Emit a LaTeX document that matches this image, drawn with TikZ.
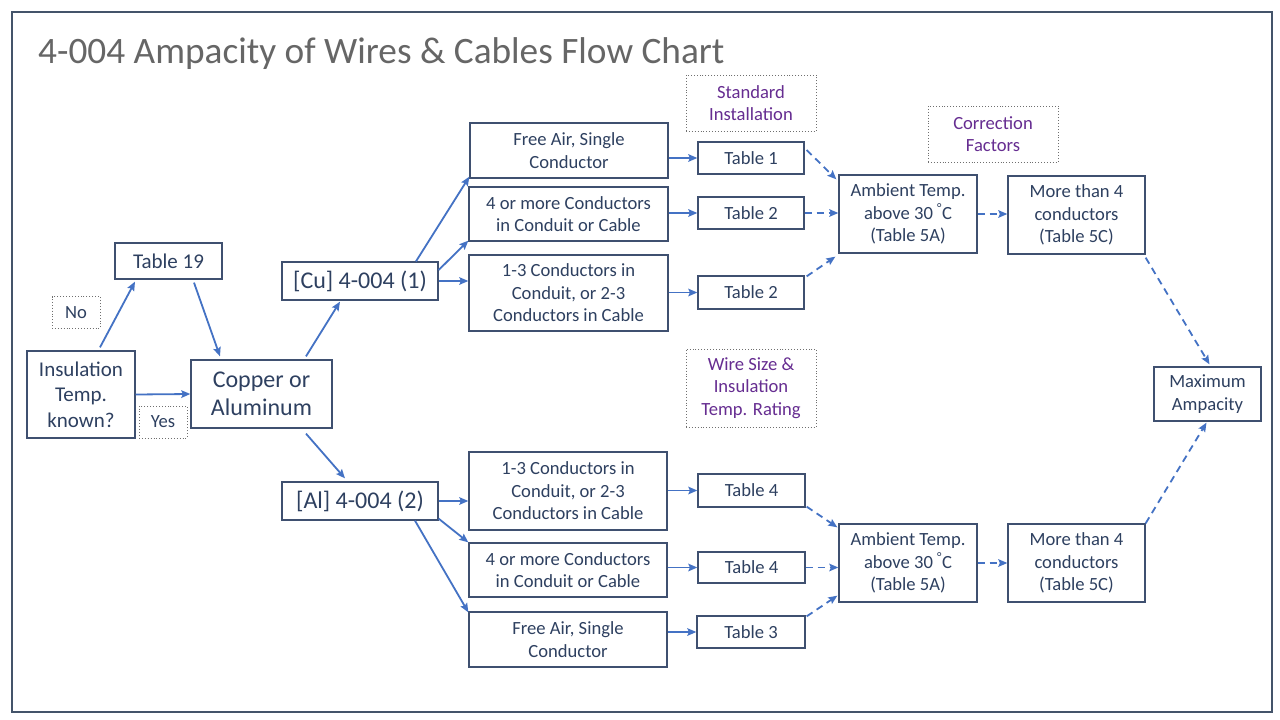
\documentclass[tikz,border=0pt]{standalone}
\usepackage{fontspec}
\setmainfont{Carlito}
\usetikzlibrary{arrows.meta,calc}
\definecolor{frame}{HTML}{44546A}
\definecolor{boxc}{HTML}{3F5070}
\definecolor{txt}{HTML}{2E4060}
\definecolor{arr}{HTML}{4472C4}
\definecolor{purp}{HTML}{662D91}
\definecolor{dotc}{HTML}{6F6F6F}
\definecolor{titlec}{HTML}{666666}
\begin{document}
\begin{tikzpicture}[x=1pt,y=-1pt,
  bx/.style={draw=boxc,line width=1.3pt,text=txt,align=center,inner sep=0pt,font=\fontsize{18.6}{22.5}\selectfont},
  lbl/.style={draw=dotc,dotted,line width=0.9pt,text=purp,align=center,inner sep=0pt,font=\fontsize{18.6}{22.5}\selectfont},
  lblb/.style={lbl,text=txt},
  arw/.style={draw=arr,line width=1.8pt,-{Stealth[length=9pt,width=7.5pt,inset=1.5pt]}},
  darw/.style={arw,dash pattern=on 7pt off 5pt}]
\useasboundingbox (0,0) rectangle (1280,720);
\fill[white] (0,0) rectangle (1280,720);
\draw[frame,line width=2pt] (12,12) rectangle (1272,712);
\node[anchor=base west,text=titlec,font=\fontsize{37.3}{42}\selectfont,inner sep=0pt] (title) at (38,63) {4-004 Ampacity of Wires \& Cables Flow Chart};
% left part
\node[bx,minimum width=108pt,minimum height=87pt,font=\fontsize{21}{25.5}\selectfont] (ins) at (81,394.5) {Insulation\\Temp.\\known?};
\node[bx,minimum width=107pt,minimum height=36pt,font=\fontsize{21}{25}\selectfont] (t19) at (168.5,261) {Table 19};
\node[lblb,minimum width=48pt,minimum height=32pt] (no) at (76,312.5) {No};
\node[lblb,minimum width=48pt,minimum height=32pt] (yes) at (163,422) {Yes};
\node[bx,minimum width=141pt,minimum height=68pt,font=\fontsize{24}{28}\selectfont] (cual) at (261.5,394) {Copper or\\Aluminum};
\node[bx,minimum width=156pt,minimum height=38pt,font=\fontsize{24}{28}\selectfont] (cu) at (360,281) {[Cu] 4-004 (1)};
\node[bx,minimum width=156pt,minimum height=38pt,font=\fontsize{24}{28}\selectfont] (al) at (360,501) {[Al] 4-004 (2)};
% copper branch
\node[bx,minimum width=198pt,minimum height=55pt] (fa1) at (569,150.5) {Free Air, Single\\Conductor};
\node[bx,minimum width=199pt,minimum height=54pt] (fm1) at (568.5,214) {4 or more Conductors\\in Conduit or Cable};
\node[bx,minimum width=199pt,minimum height=76pt] (f13a) at (568.5,293) {1-3 Conductors in\\Conduit, or 2-3\\Conductors in Cable};
\node[bx,minimum width=106pt,minimum height=32pt] (t1) at (751,158) {Table 1};
\node[bx,minimum width=106pt,minimum height=32pt] (t2a) at (751,213) {Table 2};
\node[bx,minimum width=106pt,minimum height=33pt] (t2b) at (751,292.5) {Table 2};
\node[bx,minimum width=138pt,minimum height=78pt] (amb1) at (908,214) {Ambient Temp.\\above 30 \textsuperscript{\textdegree}C\\(Table 5A)};
\node[bx,minimum width=137pt,minimum height=78pt] (more1) at (1076.5,215) {More than 4\\conductors\\(Table 5C)};
% labels
\node[lbl,minimum width=130pt,minimum height=56pt] (std) at (751,103) {Standard\\Installation};
\node[lbl,minimum width=130pt,minimum height=56pt] (corr) at (993,134) {Correction\\Factors};
\node[lbl,minimum width=130pt,minimum height=78pt] (wire) at (751,388) {Wire Size \&\\Insulation\\Temp. Rating};
\node[bx,minimum width=107pt,minimum height=54pt] (max) at (1207.5,394) {Maximum\\Ampacity};
% aluminum branch
\node[bx,minimum width=198pt,minimum height=78pt] (f13b) at (568,491) {1-3 Conductors in\\Conduit, or 2-3\\Conductors in Cable};
\node[bx,minimum width=198pt,minimum height=54pt] (fm2) at (568,570) {4 or more Conductors\\in Conduit or Cable};
\node[bx,minimum width=198pt,minimum height=55pt] (fa2) at (568,639.5) {Free Air, Single\\Conductor};
\node[bx,minimum width=107pt,minimum height=33pt] (t4a) at (751.5,490.5) {Table 4};
\node[bx,minimum width=107pt,minimum height=31pt] (t4b) at (751.5,567.5) {Table 4};
\node[bx,minimum width=108pt,minimum height=32pt] (t3) at (751,632) {Table 3};
\node[bx,minimum width=138pt,minimum height=78pt] (amb2) at (908,563) {Ambient Temp.\\above 30 \textsuperscript{\textdegree}C\\(Table 5A)};
\node[bx,minimum width=137pt,minimum height=78pt] (more2) at (1076.5,563) {More than 4\\conductors\\(Table 5C)};
% arrows left
\draw[arw] ($(ins.north)+(19,-3)$) -- ($(t19.south)+(-33.5,2)$);
\draw[arw] ($(t19.south)+(25.5,3)$) -- ($(cual.north)+(-41.5,-3)$);
\draw[arw] (ins.east) -- (cual.west);
\draw[arw] ($(cual.north)+(44.5,-3)$) -- ($(cu.south)+(-20,1)$);
\draw[arw] ($(cual.south)+(44.5,5)$) -- ($(al.north)+(-15,-3)$);
% cu arrows
\draw[arw] ($(cu.north)+(56,0)$) -- ($(fa1.south west)+(0,-2)$);
\draw[arw] ($(cu.east)+(0,-11)$) -- ($(fm1.south west)+(0,-1)$);
\draw[arw] (cu.east) -- (cu.east -| f13a.west);
\draw[arw] (t1.west -| fa1.east) -- (t1.west);
\draw[arw] (t2a.west -| fm1.east) -- (t2a.west);
\draw[arw] (t2b.west -| f13a.east) -- (t2b.west);
\draw[darw] ($(t1.east)+(2,-8)$) -- ($(amb1.north west)+(-2,5)$);
\draw[darw] (t2a.east) -- (t2a.east -| amb1.west);
\draw[darw] ($(t2b.north east)+(2,1)$) -- ($(amb1.south west)+(-3,3)$);
\draw[darw] (amb1.east) -- (amb1.east -| more1.west);
\draw[darw] ($(more1.south east)+(0,3)$) -- ($(max.north)+(2,-2)$);
% al arrows
\draw[arw] (al.east) -- (al.east -| f13b.west);
\draw[arw] ($(al.south east)+(0,-2)$) -- (fm2.north west);
\draw[arw] ($(al.south)+(55,0)$) -- ($(fa2.north west)+(0,1)$);
\draw[arw] (t4a.west -| f13b.east) -- (t4a.west);
\draw[arw] (t4b.west -| fm2.east) -- (t4b.west);
\draw[arw] (t3.west -| fa2.east) -- (t3.west);
\draw[darw] ($(t4a.south east)+(1,-1)$) -- ($(amb2.north west)+(-1,4)$);
\draw[darw] (t4b.east) -- (t4b.east -| amb2.west);
\draw[darw] ($(t3.north east)+(1,1)$) -- ($(amb2.south west)+(-1,-7)$);
\draw[darw] (amb2.east) -- (more2.west);
\draw[darw] (more2.north east) -- ($(max.south)+(-1,1)$);
\end{tikzpicture}
\end{document}
